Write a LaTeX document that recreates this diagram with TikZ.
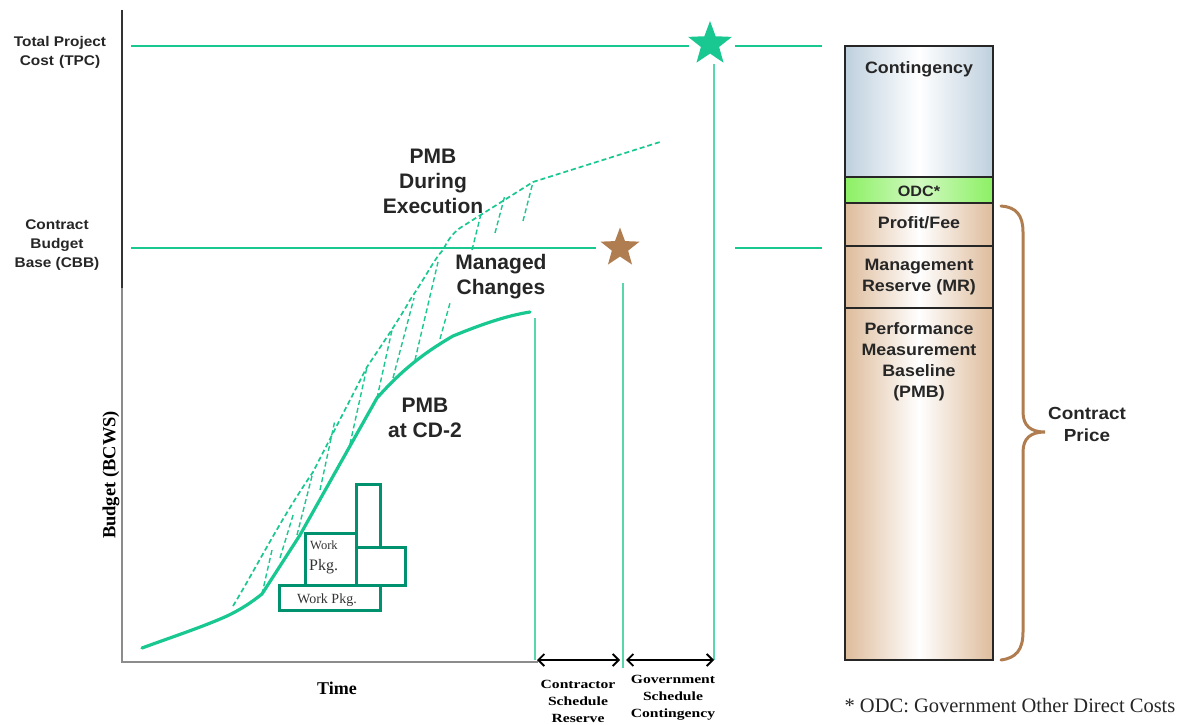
\documentclass[tikz,border=0pt]{standalone}
\usepackage{fontspec}
\setmainfont{Liberation Serif}
\setsansfont{Liberation Sans}
\usetikzlibrary{shapes.geometric,arrows.meta}
\definecolor{crv}{RGB}{25,200,145}
\definecolor{lgt}{RGB}{90,215,170}
\definecolor{boxg}{RGB}{0,145,110}
\definecolor{brn}{RGB}{175,125,80}
\definecolor{tan}{RGB}{222,188,155}
\definecolor{blu}{RGB}{190,208,222}
\definecolor{odc}{RGB}{140,240,100}
\tikzset{
  biglab/.style={font=\sffamily\bfseries\fontsize{21}{25}\selectfont, align=center, inner sep=0pt, text=black!85},
  sidelab/.style={font=\sffamily\bfseries\fontsize{14}{19}\selectfont, align=center, inner sep=0pt, text=black!85, xscale=1.1},
  collab/.style={font=\sffamily\bfseries\fontsize{16.5}{21}\selectfont, align=center, inner sep=0pt, text=black!85, xscale=1.08},
  seriflab/.style={font=\rmfamily\bfseries\fontsize{12.5}{17}\selectfont, align=center, inner sep=0pt, xscale=1.25},
  wp/.style={draw=boxg, line width=3pt},
  wptext/.style={font=\rmfamily\fontsize{14}{16}\selectfont, inner sep=0pt, text=black!80},
  refline/.style={crv, line width=1.8pt},
  vline/.style={lgt, line width=1.6pt},
  hatch/.style={crv, line width=1.4pt, dash pattern=on 5pt off 3pt},
  dblarrow/.style={black, line width=1.8pt, {Straight Barb[length=6pt,width=12pt]}-{Straight Barb[length=6pt,width=12pt]}},
  starnode/.style={star, star points=5, star point ratio=2.4, inner sep=0pt},
}
\begin{document}
\begin{tikzpicture}[x=1pt,y=-1pt]
\useasboundingbox (0,0) rectangle (1187,725);

% axes
\draw[black!80, line width=2pt] (122,10) -- (122,288);
\draw[black!45, line width=1.6pt] (122,288) -- (122,662) -- (538,662);

% reference lines
\node[starnode, fill=crv, minimum size=46pt] (tpcstar) at (710,44) {};
\node[starnode, fill=brn, minimum size=41pt] (cbbstar) at (620,248) {};
\coordinate (tpcL) at (131,46);
\coordinate (tpcA) at (689,46);
\coordinate (tpcB) at (735,46);
\coordinate (tpcR) at (822,46);
\coordinate (cbbL) at (131,248);
\coordinate (cbbA) at (596,248);
\coordinate (cbbB) at (735,248);
\coordinate (cbbR) at (822,248);
\draw[refline] (tpcL) -- (tpcA);
\draw[refline] (tpcB) -- (tpcR);
\draw[refline] (cbbL) -- (cbbA);
\draw[refline] (cbbB) -- (cbbR);

% vertical lines
\coordinate (v1t) at (535,318); \coordinate (v1b) at (535,660);
\coordinate (v2t) at (623,283); \coordinate (v2b) at (623,668);
\coordinate (v3t) at (714,64);  \coordinate (v3b) at (714,660);
\draw[vline] (v1t) -- (v1b);
\draw[vline] (v2t) -- (v2b);
\draw[vline] (v3t) -- (v3b);

% double arrows
\coordinate (a1) at (537,660); \coordinate (a2) at (620,660);
\coordinate (a3) at (626,660); \coordinate (a4) at (714,660);
\draw[dblarrow] (a1) -- (a2);
\draw[dblarrow] (a3) -- (a4);

% left labels
\node[sidelab] (tpc) at (60,52) {Total Project\\Cost\,\,(TPC)};
\node[sidelab] (cbb) at (57,245) {Contract\\Budget\\Base (CBB)};

% axis labels
\node[font=\rmfamily\bfseries\fontsize{18}{20}\selectfont, inner sep=0pt] (time) at (337,688) {Time};
\node[font=\rmfamily\bfseries\fontsize{18.5}{20}\selectfont, inner sep=0pt, rotate=90] (budget) at (111,475) {Budget (BCWS)};
\node[seriflab] (csr) at (578,701) {Contractor\\Schedule\\Reserve};
\node[seriflab] (gsc) at (673,698) {Government\\Schedule\\Contingency};

% PMB at CD-2 solid curve
\draw[crv, line width=3.2pt, line join=round, line cap=round]
  (142,648) .. controls (175,636) and (205,626) .. (227,616)
  .. controls (240,610) and (252,602) .. (262,594)
  -- (300,535) -- (377,398)
  .. controls (395,378) and (415,358) .. (453,336)
  .. controls (480,325) and (505,316) .. (530,312);

% PMB during execution dashed curve
\draw[hatch, line width=1.7pt]
  (233,606) .. controls (255,570) and (280,520) .. (313,472)
  -- (367,367) .. controls (385,340) and (400,318) .. (410,300)
  .. controls (425,278) and (435,258) .. (443,250)
  .. controls (448,240) and (452,234) .. (460,228)
  -- (533,182) -- (660,142);

% hatch lines
\draw[hatch] (523,221) -- (533,182);
\draw[hatch] (495,233) -- (505,195);
\draw[hatch] (472,250) -- (481,214);
\draw[hatch] (440,339) -- (450,303);
\draw[hatch] (415,360) -- (438,262);
\draw[hatch] (393,378) -- (414,298);
\draw[hatch] (377,398) -- (392,330);
\draw[hatch] (350,444) -- (367,367);
\draw[hatch] (320,490) -- (335,420);
\draw[hatch] (297,535) -- (313,472);
\draw[hatch] (280,558) -- (294,512);
\draw[hatch] (262,594) -- (272,550);

% curve labels
\node[biglab] (pmbexec) at (433,181) {PMB\\During\\Execution};
\node[biglab] (mc) at (501,277) {Managed\\Changes};
\node[biglab] (pmbcd) at (425,418) {PMB\\at CD-2};

% work packages
\draw[wp] (356,484) rectangle (380,547);
\draw[wp] (356,547) rectangle (405,585);
\draw[wp] (305,533) rectangle (356,585);
\draw[wp] (279,585) rectangle (380,610);
\node[wptext, font=\rmfamily\fontsize{12.5}{14}\selectfont, anchor=west] (wp1a) at (310,545) {Work};
\node[wptext, font=\rmfamily\fontsize{16}{18}\selectfont, anchor=west] (wp1b) at (309,567) {Pkg.};
\node[wptext] (wp2) at (327,600) {Work Pkg.};

% right column
\shade[left color=blu, right color=blu, middle color=white] (845,46) rectangle (993,177);
\shade[left color=odc, right color=odc, middle color=odc!40] (845,177) rectangle (993,203);
\shade[left color=tan, right color=tan, middle color=white] (845,203) rectangle (993,660);
\draw[black!85, line width=1.5pt] (845,46) rectangle (993,660);
\draw[black!85, line width=1.2pt] (845,177) -- (993,177);
\draw[black!85, line width=1.2pt] (845,203) -- (993,203);
\draw[black!85, line width=1.2pt] (845,246) -- (993,246);
\draw[black!85, line width=1.2pt] (845,308) -- (993,308);
\node[collab] (cont) at (919,69) {Contingency};
\node[collab, font=\sffamily\bfseries\fontsize{15}{17}\selectfont] (odcl) at (919,191) {ODC*};
\node[collab] (pf) at (919,223) {Profit/Fee};
\node[collab] (mr) at (919,277) {Management\\Reserve (MR)};
\node[collab] (pmbc) at (919,362) {Performance\\Measurement\\Baseline\\(PMB)};

% brace
\draw[brn, line width=3pt, line cap=round]
  (1001,206) .. controls (1016,207) and (1023,215) .. (1023,232)
  -- (1023,412) .. controls (1023,426) and (1031,432) .. (1045,432)
  .. controls (1031,432) and (1023,438) .. (1023,452)
  -- (1023,632) .. controls (1023,650) and (1016,658) .. (1001,660);
\node[collab, font=\sffamily\bfseries\fontsize{17.5}{22}\selectfont] (cp) at (1087,424) {Contract\\Price};

% footnote
\node[font=\rmfamily\fontsize{20.5}{22}\selectfont, inner sep=0pt, text=black!85] (fn) at (1010,706) {* ODC: Government Other Direct Costs};
\end{tikzpicture}
\end{document}
